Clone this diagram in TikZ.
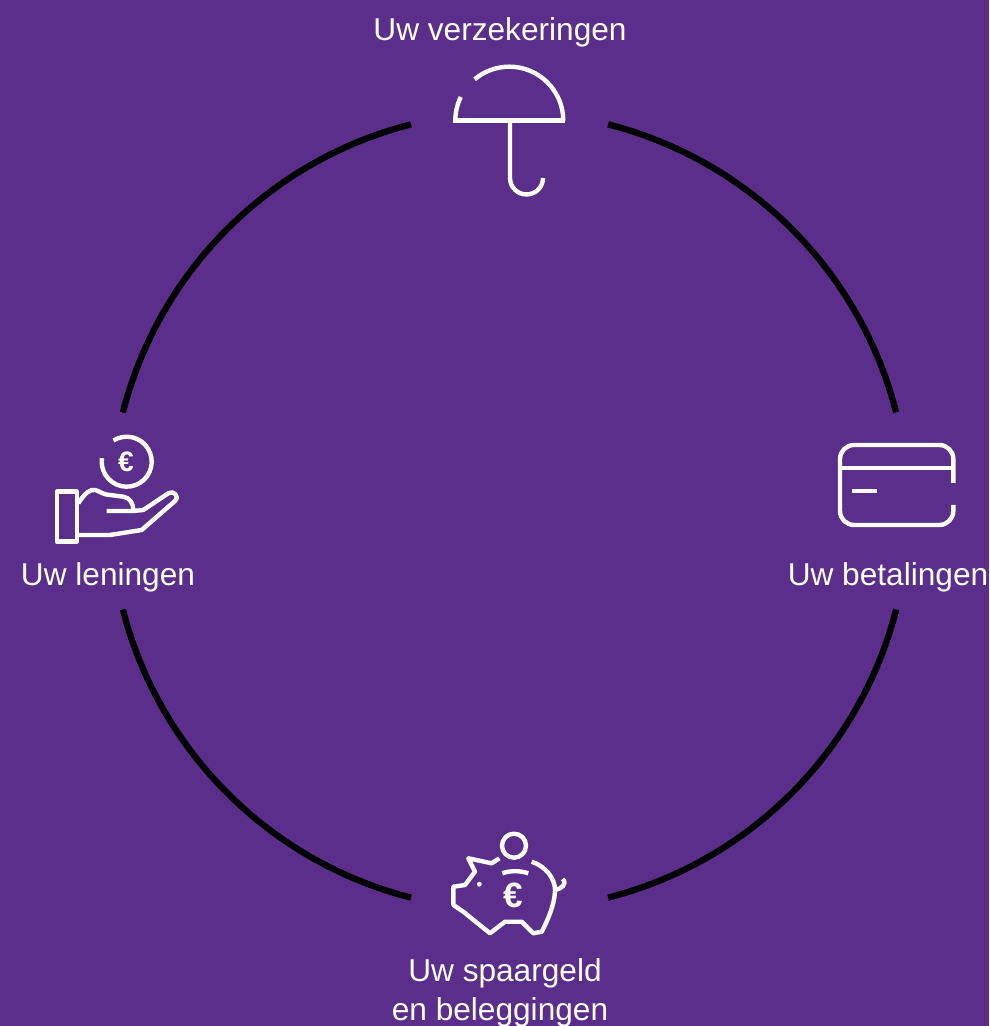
\documentclass[tikz,border=0pt]{standalone}
\usepackage{fontspec}
\setmainfont{Liberation Sans}
\definecolor{P}{RGB}{91, 46, 140}
\tikzset{
  ring/.style={line width=1.8pt, color=black},
  icon/.style={line width=1.25pt, color=white, line join=round},
  label/.style={color=white, font=\fontsize{9}{11}\selectfont, inner sep=0pt},
  euro/.style={color=white, font=\fontsize{8}{9}\selectfont\bfseries, inner sep=0pt}
}

\begin{document}
\begin{tikzpicture}
    \useasboundingbox (0,0) rectangle (9.89,10.26);
    \fill[color=P] (0,0) rectangle (9.89,10.26);

    %Centro del circulo
    \coordinate (center) at (5.095,5.15);

    %Los cuatro arcos negros
    \foreach \a in {14.3,104.3,194.3,284.3}
        \draw[ring] (center) ++(\a:3.99) arc (\a:\a+61.4:3.99);

    %Paraguas
    \draw[icon] (5.633,9.053) arc (0:130:0.54);
    \draw[icon] (5.093,9.053) ++(154:0.54) arc (154:180:0.54);
    \draw[icon] (4.53,9.053) -- (5.65,9.053);
    \draw[icon] (5.10,9.053) -- (5.10,8.48) arc (180:360:0.165);
    \node[label] (verzekeringen) at (5.00,9.94) {Uw verzekeringen};

    %Tarjeta
    \draw[icon] (9.533,5.43) -- (9.533,5.67) arc (0:90:0.14) -- (8.54,5.81) arc (90:180:0.14)
        -- (8.40,5.15) arc (180:270:0.14) -- (9.393,5.01) arc (270:360:0.14) -- (9.533,5.21);
    \draw[icon] (8.40,5.577) -- (9.533,5.577);
    \draw[icon, line width=1.4pt] (8.523,5.35) -- (8.767,5.35);
    \node[label] (betalingen) at (8.88,4.49) {Uw betalingen};

    %Mano con moneda
    \draw[icon] (1.267,5.643) ++(122:0.25) arc (122:-188:0.25);
    \node[euro] (euroHand) at (1.26,5.64) {€};
    \draw[icon] (0.567,4.843) rectangle (0.767,5.343);
    \draw[icon] (0.783,5.227) .. controls (0.85,5.33) and (0.90,5.37) .. (0.95,5.36)
        .. controls (1.00,5.35) and (1.03,5.31) .. (1.10,5.31) -- (1.233,5.293)
        .. controls (1.30,5.28) and (1.333,5.23) .. (1.333,5.15) -- (1.067,5.15);
    \draw[icon] (1.333,5.15) -- (1.433,5.16) -- (1.683,5.327)
        .. controls (1.73,5.36) and (1.80,5.30) .. (1.75,5.25)
        -- (1.417,4.96) -- (1.10,4.91) -- (0.783,4.91);
    \node[label] (leningen) at (1.08,4.49) {Uw leningen};

    %Cerdito
    \draw[icon] (5.14,1.803) circle (0.12);
    \draw[icon] (5.023,1.527) .. controls (5.10,1.555) and (5.20,1.555) .. (5.283,1.527);
    \draw[icon] (4.993,1.677) -- (4.917,1.627) -- (4.683,1.677) -- (4.75,1.543) -- (4.65,1.41)
        -- (4.533,1.393) -- (4.533,1.21) -- (4.633,1.143) -- (4.90,0.927) -- (5.05,1.043)
        -- (5.217,1.043) -- (5.333,0.927) -- (5.417,0.943)
        .. controls (5.50,1.10) and (5.55,1.25) .. (5.55,1.36)
        .. controls (5.55,1.48) and (5.45,1.60) .. (5.317,1.643);
    \draw[icon] (5.55,1.36) .. controls (5.61,1.37) and (5.68,1.42) .. (5.625,1.47);
    \fill[color=white] (4.793,1.417) circle (0.024);
    \node[euro, font=\fontsize{10}{11}\selectfont\bfseries] (euroPig) at (5.13,1.31) {€};
    \node[label] (spaargeld) at (5.05,0.53) {Uw spaargeld};
    \node[label] (beleggingen) at (5.00,0.14) {en beleggingen};
\end{tikzpicture}
\end{document}
